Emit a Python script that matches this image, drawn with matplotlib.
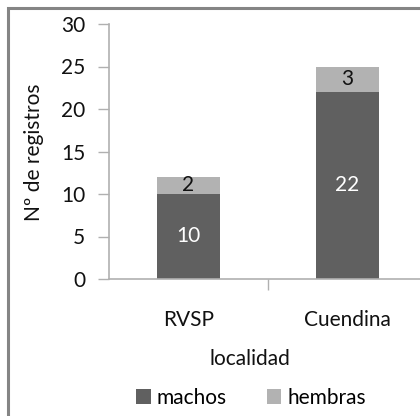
import numpy as np
import matplotlib.pyplot as plt
from matplotlib.patches import Rectangle

plt.rcParams['font.family'] = ['Lato', 'DejaVu Sans']

localidades = ['RVSP', 'Cuendina']
machos = [10, 22]
hembras = [2, 3]

c_machos = '#606060'
c_hembras = '#b2b2b2'
c_axis = '#b0b0b0'
fs = 15

fig = plt.figure(figsize=(4.2, 4.16), dpi=100)
W, H = 420, 416

# plot area in pixel units (right edge runs off the figure)
x0, x1 = 109, 427
y0, y1 = 279, 24
ax = fig.add_axes([x0 / W, 1 - y0 / H, (x1 - x0) / W, (y0 - y1) / H])

x = np.arange(len(localidades))
b1 = ax.bar(x, machos, width=0.4, color=c_machos)
b2 = ax.bar(x, hembras, width=0.4, bottom=machos, color=c_hembras)

for i in range(len(x)):
    ax.text(x[i], machos[i] / 2, str(machos[i]), ha='center', va='center',
            color='white', fontsize=fs)
    ax.text(x[i], machos[i] + hembras[i] / 2, str(hembras[i]), ha='center',
            va='center', color='#111111', fontsize=fs)

ax.set_xlim(-0.5, 1.5)
ax.set_ylim(0, 30)
ax.set_yticks(range(0, 31, 5))
ax.set_xticks([0.5])
ax.set_xticklabels([''])
ax.tick_params(axis='y', length=8, width=1, color=c_axis, labelsize=fs,
               pad=9, labelcolor='#111111')
ax.tick_params(axis='x', length=8, width=1, color=c_axis)
for s in ['top', 'right']:
    ax.spines[s].set_visible(False)
for s in ['left', 'bottom']:
    ax.spines[s].set_color(c_axis)
    ax.spines[s].set_linewidth(1.2)

# category labels below the axis
for i, name in enumerate(localidades):
    xp = ax.transData.transform((x[i], 0))[0] / W
    fig.text(xp, 1 - 320 / H, name, ha='center', va='center', fontsize=fs,
             color='#111111')

fig.text(34 / W, 1 - 152 / H, 'Nº de registros', rotation=90, ha='center',
         va='center', fontsize=fs, color='#111111')
fig.text(250 / W, 1 - 359 / H, 'localidad', ha='center', va='center',
         fontsize=fs, color='#111111')

# legend
fig.legend([b1, b2], ['machos', 'hembras'], loc='center',
           bbox_to_anchor=(251 / W, 1 - 398 / H), ncol=2, frameon=False,
           fontsize=fs, handlelength=0.7, handleheight=0.7,
           handletextpad=0.3, columnspacing=1.9, borderpad=0)

# outer frame
fig.patches.append(Rectangle((8 / W, -0.1), 1.2, 1 - 8 / H + 0.1,
                             transform=fig.transFigure, fill=False,
                             edgecolor='#858585', linewidth=2.2))

fig.savefig('out.png', dpi=100)
